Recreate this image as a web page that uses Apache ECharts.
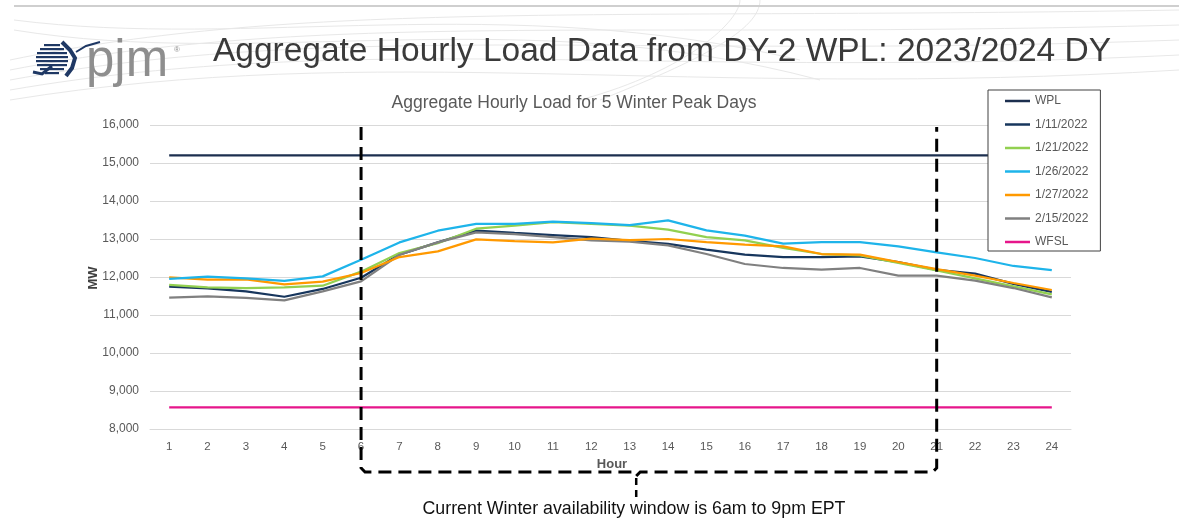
<!DOCTYPE html>
<html><head><meta charset="utf-8">
<script src="https://cdn.jsdelivr.net/npm/echarts@6/dist/echarts.min.js"></script>
<style>html,body{margin:0;padding:0;background:#fff}#c{width:1179px;height:521px}</style>
</head><body><div id="c"></div>
<script>
const hours = ['1','2','3','4','5','6','7','8','9','10','11','12','13','14','15','16','17','18','19','20','21','22','23','24'];
const yTicks = [8000, 16000, 1000]; // min, max, interval
const wpl  = [15200,15200,15200,15200,15200,15200,15200,15200,15200,15200,15200,15200,15200,15200,15200,15200,15200,15200,15200,15200,15200,15200,15200,15200];
const d0111 = [11745,11700,11620,11480,11685,11980,12590,12910,13220,13160,13105,13050,12950,12870,12720,12590,12520,12520,12545,12390,12190,12090,11820,11610];
const d0121 = [11790,11730,11710,11730,11770,12140,12630,12890,13270,13350,13447,13400,13350,13245,13050,12963,12765,12605,12570,12370,12175,11965,11755,11545];
const d0126 = [11950,12010,11965,11900,12017,12455,12910,13218,13400,13400,13455,13420,13368,13490,13227,13087,12876,12920,12920,12805,12647,12500,12290,12184];
const d0127 = [11990,11930,11940,11805,11877,12105,12525,12675,12990,12947,12910,13008,12973,13000,12920,12850,12805,12605,12587,12395,12210,12034,11842,11658];
const d0215 = [11460,11490,11450,11385,11620,11885,12585,12910,13175,13130,13050,12963,12930,12832,12605,12342,12237,12192,12237,12034,12034,11903,11710,11463];
const wfsl = [8570,8570,8570,8570,8570,8570,8570,8570,8570,8570,8570,8570,8570,8570,8570,8570,8570,8570,8570,8570,8570,8570,8570,8570];
const seriesNames = ['WPL','1/11/2022','1/21/2022','1/26/2022','1/27/2022','2/15/2022','WFSL'];
const seriesData = [wpl, d0111, d0121, d0126, d0127, d0215, wfsl];
const seriesColors = ['#1c2f4f','#17365d','#92d050','#1eb4ea','#ff9900','#808080','#e6168b'];
const windowStart = '6', windowEnd = '21';

const chart = echarts.init(document.getElementById('c'), null, {renderer:'canvas'});

const series = seriesNames.map((n,i)=>({
  name:n, type:'line', data:seriesData[i], symbol:'none', showSymbol:false,
  lineStyle:{color:seriesColors[i], width:2.25}, itemStyle:{color:seriesColors[i]},
  z: [2,3,3,5,4,3,2][i], animation:false
}));

// decorative background waves
const waves = [];
const wc = [[10,60,300,0,600,20,1179,10],[10,70,320,10,620,40,1179,25],[10,80,340,20,640,60,1179,40],[10,90,360,30,660,80,1179,55],
            [10,100,380,40,680,100,1179,70],[14,20,250,50,500,-10,800,60],[14,30,260,70,520,0,820,80],[600,100,700,60,760,30,760,0],[580,100,690,70,740,20,740,0]];
wc.forEach(c=>waves.push({type:'bezierCurve', shape:{x1:c[0],y1:c[1],cpx1:c[2],cpy1:c[3],cpx2:c[4],cpy2:c[5],x2:c[6],y2:c[7]}, style:{stroke:'#e8e8e8',lineWidth:1,fill:null}, z:0, silent:true}));

// logo stripes (globe)
const logo = [];
const stripes = [[44,44,16],[40,48,24],[37,52,30],[36,56,32],[36,60,32],[37,64,30],[40,68,24],[45,72,14]];
stripes.forEach(s=>logo.push({type:'rect', shape:{x:s[0],y:s[1],width:s[2],height:2.2}, style:{fill:'#1f3864'}}));
logo.push({type:'polyline', shape:{points:[[62,42],[70,50],[75,58],[72,68],[66,76]]}, style:{stroke:'#1f3864',lineWidth:4,fill:null}});
logo.push({type:'polyline', shape:{points:[[33,72],[42,74],[52,66]]}, style:{stroke:'#1f3864',lineWidth:3,fill:null}});
logo.push({type:'polyline', shape:{points:[[76,52],[86,46],[100,42]]}, style:{stroke:'#1f3864',lineWidth:2,fill:null}});

chart.setOption({
  animation:false,
  backgroundColor:'#ffffff',
  grid:{left:150, right:108, top:125, bottom:92, containLabel:false},
  legend:{
    orient:'vertical', left:988, top:90, data:seriesNames,
    itemWidth:25, itemHeight:14, itemGap:11.5,
    padding:[5,12,3,17], borderColor:'#404040', borderWidth:1, backgroundColor:'#fff',
    textStyle:{color:'#595959', fontSize:12, fontFamily:'Liberation Sans, Arial, sans-serif'},
    icon:'path://M0,6 L25,6 L25,8.5 L0,8.5 Z'
  },
  xAxis:{type:'category', data:hours, boundaryGap:true,
    axisLine:{show:true, lineStyle:{color:'#d9d9d9', width:1}}, axisTick:{show:false},
    axisLabel:{color:'#595959', fontSize:11.5, margin:12, fontFamily:'Liberation Sans, Arial, sans-serif'}},
  yAxis:{type:'value', min:yTicks[0], max:yTicks[1], interval:yTicks[2],
    axisLine:{show:false}, axisTick:{show:false},
    splitLine:{lineStyle:{color:'#d9d9d9', width:1}},
    axisLabel:{color:'#595959', fontSize:12, margin:11, fontFamily:'Liberation Sans, Arial, sans-serif',
      formatter:v=>v.toLocaleString('en-US')}},
  series:series
});

function drawOverlay(){
  const xs = chart.convertToPixel({xAxisIndex:0}, windowStart);
  const xe = chart.convertToPixel({xAxisIndex:0}, windowEnd);
  const yTop = chart.convertToPixel({yAxisIndex:0}, 16000) + 2;
  const yB = 472, r = 4;
  const dash = {stroke:'#000', lineWidth:3, fill:null, lineDash:[13,7]};
  const tipX = xs + (xe - xs) * 0.478;
  const g = [].concat(waves, [
    {type:'line', shape:{x1:14,y1:6,x2:1179,y2:6}, style:{stroke:'#cfcfcf', lineWidth:2}, silent:true},
    {type:'group', children:logo},
    {type:'text', style:{x:86, y:62, text:'pjm', font:'51px "Liberation Sans", Arial, sans-serif', fill:'#8e8e8e', textVerticalAlign:'middle'}},
    {type:'text', style:{x:174, y:50, text:'®', font:'8px "Liberation Sans", Arial, sans-serif', fill:'#8e8e8e', textVerticalAlign:'middle'}},
    {type:'text', style:{x:662, y:52, text:'Aggregate Hourly Load Data from DY-2 WPL: 2023/2024 DY', font:'33.5px "Liberation Sans", Arial, sans-serif', fill:'#3a3a3a', textAlign:'center', textVerticalAlign:'middle'}},
    {type:'text', style:{x:574, y:103, text:'Aggregate Hourly Load for 5 Winter Peak Days', font:'17.5px "Liberation Sans", Arial, sans-serif', fill:'#595959', textAlign:'center', textVerticalAlign:'middle'}},
    {type:'text', rotation:Math.PI/2, x:93, y:278, style:{x:0, y:0, text:'MW', font:'bold 13px "Liberation Sans", Arial, sans-serif', fill:'#404040', textAlign:'center', textVerticalAlign:'middle'}},
    {type:'text', style:{x:612, y:464, text:'Hour', font:'bold 13px "Liberation Sans", Arial, sans-serif', fill:'#595959', textAlign:'center', textVerticalAlign:'middle'}},
    {type:'polyline', shape:{points:[[xs,yTop],[xs,yB-r],[xs+r,yB],[tipX-4,yB],[tipX,yB+4]]}, style:dash, z:10},
    {type:'polyline', shape:{points:[[tipX,yB+4],[tipX+4,yB],[xe-r,yB],[xe,yB-r],[xe,yTop]]}, style:dash, z:10},
    {type:'line', shape:{x1:tipX,y1:yB+6,x2:tipX,y2:yB+26}, style:{stroke:'#000', lineWidth:2.5, lineDash:[7,5]}, z:10},
    {type:'text', style:{x:634, y:509, text:'Current Winter availability window is 6am to 9pm EPT', font:'17.8px "Liberation Sans", Arial, sans-serif', fill:'#111', textAlign:'center', textVerticalAlign:'middle'}}
  ]);
  chart.setOption({graphic:g});
}
drawOverlay();
</script></body></html>
